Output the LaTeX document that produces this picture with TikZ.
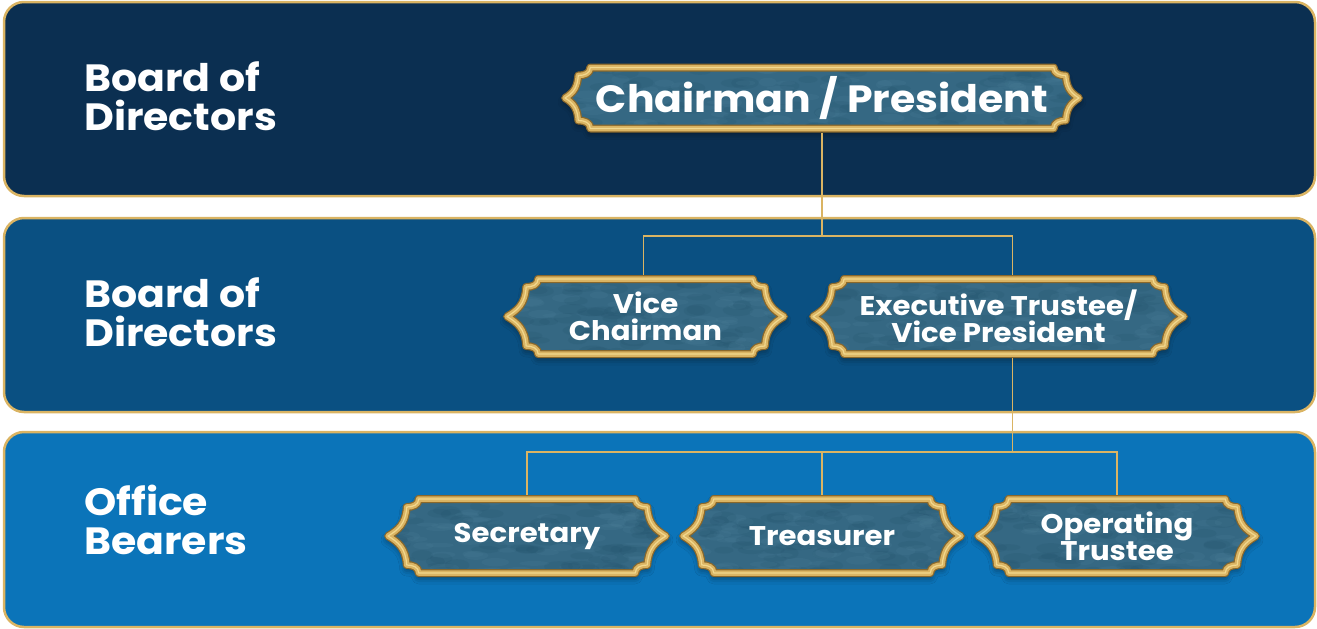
\documentclass[tikz,border=0pt]{standalone}
\usepackage{fontspec}
\setmainfont{Poppins}[FakeStretch=1.08]
\usetikzlibrary{shadows.blur}

\definecolor{bandA}{HTML}{0B2F51}
\definecolor{bandB}{HTML}{0A5082}
\definecolor{bandC}{HTML}{0B74B9}
\definecolor{gold}{HTML}{DAB463}
\definecolor{golddark}{HTML}{8A682B}
\definecolor{goldlight}{HTML}{F2D88E}
\definecolor{marble}{HTML}{356883}
\definecolor{marbledark}{HTML}{1F4D66}
\definecolor{marblelight}{HTML}{4F839C}

\tikzset{
  band/.style={draw=gold, line width=2.5, rounded corners=20},
  link/.style={draw=gold, line width=1.6},
  tier/.style={text=white, font=\bfseries\fontsize{38}{39}\selectfont,
               align=left, anchor=west, inner sep=0},
  title/.style={text=white, align=center, inner sep=0},
  % ornamental plaque outline; uses \W, \H (half sizes) and \A (corner inset)
  plaqueshape/.style={insert path={
    ({-\W+\A},\H) -- ({\W-\A},\H)
    .. controls ({\W-\A},{\H-6}) and ({\W-\A+6},{\H-8}) .. ({\W-\A+12},{\H-8})
    .. controls ({\W-\A+13},12) and ({\W-10},6) .. (\W,0)
    .. controls ({\W-10},-6) and ({\W-\A+13},-12) .. ({\W-\A+12},{-\H+8})
    .. controls ({\W-\A+6},{-\H+8}) and ({\W-\A},{-\H+6}) .. ({\W-\A},-\H)
    -- ({-\W+\A},-\H)
    .. controls ({-\W+\A},{-\H+6}) and ({-\W+\A-6},{-\H+8}) .. ({-\W+\A-12},{-\H+8})
    .. controls ({-\W+\A-13},-12) and ({-\W+10},-6) .. (-\W,0)
    .. controls ({-\W+10},6) and ({-\W+\A-13},12) .. ({-\W+\A-12},{\H-8})
    .. controls ({-\W+\A-6},{\H-8}) and ({-\W+\A},{\H-6}) .. cycle}},
}

% #1 name, #2 x, #3 y, #4 half width, #5 half height, #6 font size, #7 text
\newcommand\plaque[7]{%
  \begin{scope}[shift={(#2,#3)}]
    \def\W{#4}\def\H{#5}\pgfmathsetmacro\A{0.83*#5}
    \fill[marble, blur shadow={shadow xshift=0pt, shadow yshift=-4pt,
          shadow blur radius=7pt, shadow opacity=55}, plaqueshape];
    \begin{scope}
      \clip[plaqueshape];
      \pgfmathsetseed{#2}
      \foreach \k in {1,...,70}{
        \fill[marbledark, opacity=0.14]
          ({rand*\W},{rand*\H}) ellipse ({9+7*rnd} and {3+3*rnd});
        \fill[marblelight, opacity=0.16]
          ({rand*\W},{rand*\H}) ellipse ({8+7*rnd} and {2+3*rnd});
      }
    \end{scope}
    \draw[golddark, line width=8, line join=round, plaqueshape];
    \draw[gold, line width=5.5, line join=round, plaqueshape];
    \draw[goldlight, line width=1.2, line join=round, plaqueshape];
  \end{scope}
  \node[title, font=\bfseries\fontsize{#6}{#6}\selectfont,
        minimum width={2*(#4+4)}, minimum height={2*(#5+4)}]
    (#1) at (#2,#3) {#7};
}

\begin{document}
\begin{tikzpicture}[x=1pt, y=-1pt]
  \useasboundingbox (0,0) rectangle (1317,629);

  % tier bands
  \draw[band, fill=bandA] (4,2) rectangle (1315,196);
  \draw[band, fill=bandB] (4,218) rectangle (1315,412);
  \draw[band, fill=bandC] (4,432) rectangle (1315,627);

  % tier labels
  \node[tier] (t1) at (84,96) {Board of\\Directors};
  \node[tier] (t2) at (84,312) {Board of\\Directors};
  \node[tier] (t3) at (84,520) {Office\\Bearers};

  % positions
  \plaque{chair}{822}{98}{257}{30.5}{38}{Chairman / President}
  \plaque{vc}{645.5}{316.5}{138.5}{37.5}{27}{Vice\\Chairman}
  \plaque{ex}{998.5}{316.5}{185.5}{37.5}{27}{Executive Trustee/\\Vice President}
  \plaque{sec}{527}{536}{139}{37}{27}{Secretary}
  \plaque{tr}{822}{536}{139}{37}{27}{Treasurer}
  \plaque{op}{1117}{536}{139}{37}{27}{Operating\\Trustee}

  % reporting lines
  \coordinate (j1) at (822,236);
  \coordinate (j2) at (1012.5,452);
  \draw[link] (chair.south) -- (j1);
  \draw[link] (j1) -| ([xshift=-2pt]vc.north);
  \draw[link] (j1) -| ([xshift=14pt]ex.north);
  \draw[link] ([xshift=14pt]ex.south) -- (j2);
  \draw[link] (j2) -| (sec.north);
  \draw[link] (j2) -| (op.north);
  \draw[link] (tr.north) -- (tr.north |- j2);
\end{tikzpicture}
\end{document}
